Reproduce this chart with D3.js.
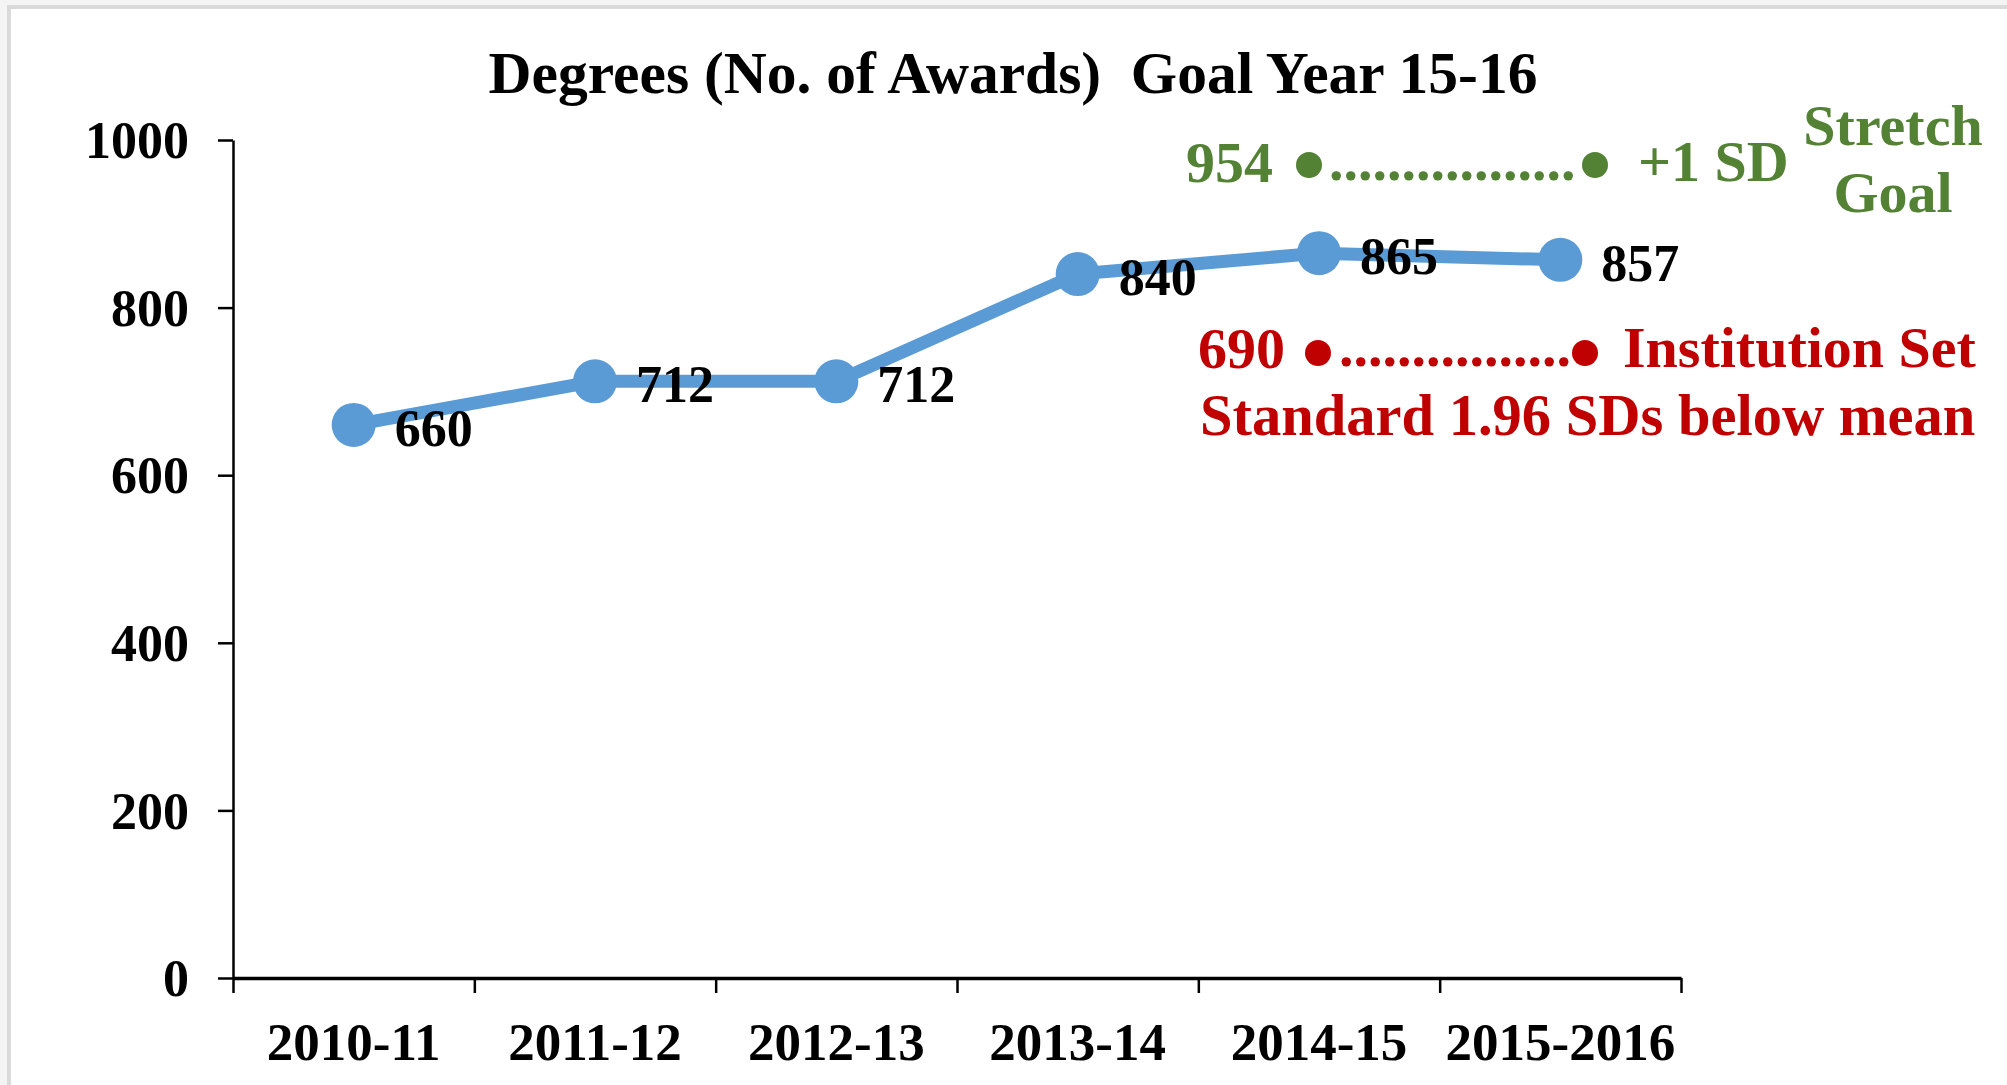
<!DOCTYPE html>
<html>
<head>
<meta charset="utf-8">
<script src="https://cdn.jsdelivr.net/npm/d3@7"></script>
<style>
  html, body { margin: 0; padding: 0; background: #f4f4f4; }
  svg { display: block; }
  text { font-family: "Liberation Serif", "Times New Roman", serif; font-weight: bold; white-space: pre; }
</style>
</head>
<body>
<svg id="chart" width="2007" height="1085"></svg>
<script>
// ---- data ----
const categories = ["2010-11", "2011-12", "2012-13", "2013-14", "2014-15", "2015-2016"];
const awards = [660, 712, 712, 840, 865, 857];
const yTicks = [0, 200, 400, 600, 800, 1000];
const title = "Degrees (No. of Awards)  Goal Year 15-16";
const stretchGoal = 954;
const setStandard = 690;
const stretchLabel = ["+1 SD"];
const stretchTitle = ["Stretch", "Goal"];
const standardLabel = ["Institution Set", "Standard 1.96 SDs below mean"];

// ---- layout ----
const W = 2007, H = 1085;
const plot = { left: 233, right: 1681, top: 140, bottom: 978 };
const blue = "#5b9bd5", green = "#548235", red = "#c00000";

const svg = d3.select("#chart");

// page frame
svg.append("rect").attr("x", 0).attr("y", 0).attr("width", W).attr("height", H).attr("fill", "#f4f4f4");
svg.append("rect").attr("x", 7).attr("y", 5).attr("width", W - 7).attr("height", H - 5).attr("fill", "#dadada");
svg.append("rect").attr("x", 11).attr("y", 9).attr("width", W - 11).attr("height", H - 9).attr("fill", "#ffffff");

// scales
const x = d3.scaleBand().domain(categories).range([plot.left, plot.right]).padding(0);
const xEdge = d3.scaleLinear().domain([0, categories.length]).range([plot.left, plot.right]);
const y = d3.scaleLinear().domain([0, 1000]).range([plot.bottom, plot.top]);
const cx = d => x(d) + x.bandwidth() / 2;

// title
svg.append("text")
  .attr("x", 1013).attr("y", 93)
  .attr("text-anchor", "middle")
  .attr("xml:space", "preserve")
  .attr("font-size", 59.5)
  .attr("fill", "#000")
  .text(title);

// y axis
const yAxis = svg.append("g")
  .attr("transform", `translate(${plot.left},0)`)
  .call(d3.axisLeft(y).tickValues(yTicks).tickFormat(d3.format("d")).tickSize(15).tickPadding(29).tickSizeOuter(0));
yAxis.select(".domain").attr("stroke", "#000").attr("stroke-width", 2.5);
yAxis.selectAll(".tick line").attr("stroke", "#000").attr("stroke-width", 2.5);
yAxis.selectAll(".tick text")
  .attr("font-size", 52)
  .attr("font-family", '"Liberation Serif", "Times New Roman", serif')
  .attr("font-weight", "bold")
  .attr("fill", "#000")
  .attr("dy", "0.34em");

// x axis (ticks on category boundaries)
const xAxis = svg.append("g")
  .attr("transform", `translate(0,${plot.bottom})`)
  .call(d3.axisBottom(xEdge).tickValues(d3.range(categories.length + 1)).tickSize(15).tickFormat("").tickSizeOuter(0));
xAxis.select(".domain").attr("stroke", "#000").attr("stroke-width", 3.5);
xAxis.selectAll(".tick line").attr("stroke", "#000").attr("stroke-width", 2.5);

svg.append("g").selectAll("text")
  .data(categories)
  .join("text")
  .attr("x", d => cx(d))
  .attr("y", 1060)
  .attr("text-anchor", "middle")
  .attr("font-size", 53)
  .attr("fill", "#000")
  .text(d => d);

// line
const series = categories.map((c, i) => ({ c, v: awards[i] }));
const line = d3.line().x(d => cx(d.c)).y(d => y(d.v));
svg.append("path")
  .datum(series)
  .attr("d", line)
  .attr("fill", "none")
  .attr("stroke", blue)
  .attr("stroke-width", 13)
  .attr("stroke-linejoin", "round");

svg.append("g").selectAll("circle")
  .data(series)
  .join("circle")
  .attr("cx", d => cx(d.c))
  .attr("cy", d => y(d.v))
  .attr("r", 22)
  .attr("fill", blue);

// data labels
svg.append("g").selectAll("text")
  .data(series)
  .join("text")
  .attr("x", d => cx(d.c) + 41)
  .attr("y", d => y(d.v) + 3)
  .attr("dy", "0.34em")
  .attr("font-size", 52)
  .attr("fill", "#000")
  .text(d => d.v);

// ---- goal annotations ----
function annotationRow(g, opts) {
  g.append("text")
    .attr("x", opts.valueX).attr("y", opts.baseline)
    .attr("text-anchor", opts.valueAnchor)
    .attr("font-size", 58).attr("fill", opts.color)
    .text(opts.value);
  g.append("circle").attr("cx", opts.dot1).attr("cy", opts.dotY).attr("r", 13).attr("fill", opts.color);
  g.append("text")
    .attr("x", opts.dotsX).attr("y", opts.baseline - 2)
    .attr("font-size", 58).attr("fill", opts.color)
    .text(".".repeat(opts.nDots));
  g.append("circle").attr("cx", opts.dot2).attr("cy", opts.dotY).attr("r", 13).attr("fill", opts.color);
}

const gGreen = svg.append("g");
annotationRow(gGreen, {
  value: stretchGoal, valueX: 1273, valueAnchor: "end", baseline: 182, color: green,
  dot1: 1309, dot2: 1595, dotY: 165, dotsX: 1329, nDots: 17
});
gGreen.append("text").attr("x", 1638).attr("y", 181).attr("font-size", 58).attr("fill", green).text(stretchLabel[0]);
gGreen.selectAll("text.st")
  .data(stretchTitle)
  .join("text")
  .attr("class", "st")
  .attr("x", 1893)
  .attr("y", (d, i) => 145 + i * 67)
  .attr("text-anchor", "middle")
  .attr("font-size", 58)
  .attr("fill", green)
  .text(d => d);

const gRed = svg.append("g");
annotationRow(gRed, {
  value: setStandard, valueX: 1198, valueAnchor: "start", baseline: 368, color: red,
  dot1: 1318, dot2: 1585, dotY: 353, dotsX: 1339, nDots: 16
});
gRed.append("text").attr("x", 1623).attr("y", 367).attr("font-size", 58).attr("fill", red).text(standardLabel[0]);
gRed.append("text").attr("x", 1200).attr("y", 435).attr("font-size", 58.5).attr("fill", red).text(standardLabel[1]);
</script>
</body>
</html>
